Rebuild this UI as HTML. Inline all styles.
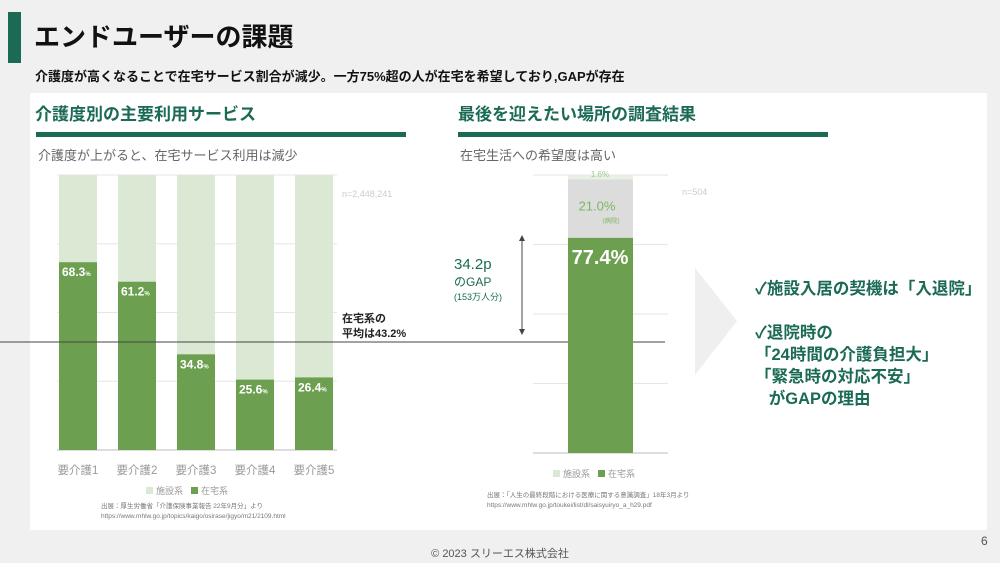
<!DOCTYPE html>
<html><head><meta charset="utf-8"><style>
body{margin:0;width:1000px;height:563px;background:#f0f0f0;position:relative;overflow:hidden;font-family:"Liberation Sans","Noto Sans CJK JP",sans-serif}
.a{position:absolute;white-space:nowrap}
</style></head><body>
<div class="a" style="left:8px;top:12px;width:13px;height:51px;background:#1b6a55"></div>
<div class="a" style="left:34px;top:17px;font-size:26px;font-weight:bold;color:#111">エンドユーザーの課題</div>
<div class="a" style="left:35px;top:66px;font-size:13px;font-weight:bold;color:#111">介護度が高くなることで在宅サービス割合が減少。一方75%超の人が在宅を希望しており,GAPが存在</div>
<div class="a" style="left:30px;top:93px;width:957px;height:437px;background:#fff"></div>
<div class="a" style="left:35px;top:100px;font-size:17px;font-weight:bold;color:#1b6a55">介護度別の主要利用サービス</div>
<div class="a" style="left:36px;top:132px;width:370px;height:5px;background:#1b6a55"></div>
<div class="a" style="left:38px;top:145px;font-size:13px;color:#666">介護度が上がると、在宅サービス利用は減少</div>
<div class="a" style="left:458px;top:100px;font-size:17px;font-weight:bold;color:#1b6a55">最後を迎えたい場所の調査結果</div>
<div class="a" style="left:458px;top:132px;width:370px;height:5px;background:#1b6a55"></div>
<div class="a" style="left:460px;top:145px;font-size:13px;color:#666">在宅生活への希望度は高い</div>
<svg class="a" style="left:0;top:0" width="1000" height="563" id="svg"></svg>
<div class="a" style="left:755px;top:278px;font-size:16.5px;font-weight:bold;color:#1b6a55;line-height:22px">✓施設入居の契機は「入退院」<br><br>✓退院時の<br>「24時間の介護負担大」<br>「緊急時の対応不安」<br>&nbsp;&nbsp;&nbsp;がGAPの理由</div>
<div class="a" style="left:0;width:1000px;text-align:center;top:545px;font-size:11px;color:#555">© 2023 スリーエス株式会社</div>
<div class="a" style="left:981px;top:534px;font-size:12px;color:#555">6</div>
<script>
const categories=["要介護1","要介護2","要介護3","要介護4","要介護5"];
const homeValues=[68.3,61.2,34.8,25.6,26.4];
const rightHome=[77.4];
const rightHospital=[21.0];
const rightOther=[1.6];
const gridTicks=[0,25,50,75,100];
const NS="http://www.w3.org/2000/svg",svg=document.getElementById('svg');
function el(t,a,txt){const e=document.createElementNS(NS,t);for(const k in a)e.setAttribute(k,a[k]);if(txt!==undefined)e.textContent=txt;svg.appendChild(e);return e;}
const DG="#6c9f50",LG="#dbe8d4",F='"Liberation Sans","Noto Sans CJK JP",sans-serif';
const yL=v=>450-v/100*275, xL=i=>59+i*59;
gridTicks.forEach(t=>{const g=el('line',{x1:57,x2:337,y1:yL(t),y2:yL(t),stroke:t==0?'#bbb':'#e6e6e6'});
});
categories.forEach((c,i)=>{const v=homeValues[i];
const b1=el('rect',{x:xL(i),y:yL(100),width:38,height:yL(v)-yL(100),fill:LG});

const b2=el('rect',{x:xL(i),y:yL(v),width:38,height:yL(0)-yL(v),fill:DG});

const t=el('text',{x:xL(i)+3,y:yL(v)+14,fill:'#fff','font-size':12,'font-weight':'bold','font-family':F},v.toFixed(1));

const p=el('tspan',{'font-size':6},'%');t.appendChild(p);
const c2=el('text',{x:xL(i)+19,y:474,fill:'#999','font-size':11.5,'text-anchor':'middle','font-family':F},c);
});
const n1=el('text',{x:342,y:197,fill:'#ccc','font-size':9,'font-family':F},'n=2,448,241');
const avg=el('line',{x1:0,x2:665,y1:342,y2:342,stroke:'#444','stroke-width':1});
const at=el('text',{x:342,y:322,fill:'#222','font-size':11,'font-weight':'bold','font-family':F});
const ts1=el('tspan',{x:342,dy:0},'在宅系の');at.appendChild(ts1);
const ts2=el('tspan',{x:342,dy:15},'平均は43.2%');at.appendChild(ts2);
function legend(x,y,name){const g1=el('rect',{x:x,y:y-7,width:7,height:7,fill:LG});
const a=el('text',{x:x+10,y:y,fill:'#999','font-size':9,'font-family':F},'施設系');
const g2=el('rect',{x:x+45,y:y-7,width:7,height:7,fill:DG});
const b=el('text',{x:x+55,y:y,fill:'#999','font-size':9,'font-family':F},'在宅系');}
legend(146,494,'left-legend');legend(553,477,'right-legend');
function src(x,y,l1,l2,n){const s=el('text',{x:x,y:y,fill:'#777','font-size':6.5,'font-family':F},l1);
const s2=el('text',{x:x,y:y+10,fill:'#777','font-size':6.5,'font-family':F},l2);}
src(101,508,'出展：厚生労働省「介護保険事業報告 22年9月分」より','https://www.mhlw.go.jp/topics/kaigo/osirase/jigyo/m21/2109.html','left-source');
src(487,497,'出展：「人生の最終段階における医療に関する意識調査」18年3月より','https://www.mhlw.go.jp/toukei/list/dl/saisyuiryo_a_h29.pdf','right-source');
const yR=v=>453-v/100*278;
gridTicks.forEach(t=>{const g=el('line',{x1:533,x2:668,y1:yR(t),y2:yR(t),stroke:t==0?'#bbb':'#e6e6e6'});
});
const h=rightHome[0],hp=rightHospital[0],o=rightOther[0];
const r3=el('rect',{x:568,y:yR(h+hp+o),width:65,height:yR(h+hp)-yR(h+hp+o),fill:'#e8f0e3'});
const r2=el('rect',{x:568,y:yR(h+hp),width:65,height:yR(h)-yR(h+hp),fill:'#dcdcdc'});
const r1=el('rect',{x:568,y:yR(h),width:65,height:yR(0)-yR(h),fill:DG});
const l1=el('text',{x:600,y:yR(h)+26,fill:'#fff','font-size':20,'font-weight':'bold','text-anchor':'middle','font-family':F},h.toFixed(1)+'%');
const l2=el('text',{x:597,y:yR(h+hp/2)+2,fill:'#7bb863','font-size':13,'text-anchor':'middle','font-family':F},hp.toFixed(1)+'%');
const l2b=el('text',{x:611,y:yR(h+hp/2)+14,fill:'#7bb863','font-size':6.5,'text-anchor':'middle','font-family':F},'(病院)');
const l3=el('text',{x:600,y:177,fill:'#9cc98a','font-size':8,'text-anchor':'middle','font-family':F},o.toFixed(1)+'%');
const n2=el('text',{x:682,y:195,fill:'#ccc','font-size':9,'font-family':F},'n=504');
const ar=el('line',{x1:522,x2:522,y1:237,y2:333,stroke:'#444','stroke-width':1});
const a1=el('path',{d:'M519,241 L522,235 L525,241Z M519,329 L522,335 L525,329Z',fill:'#444'});
const g1=el('text',{x:454,y:269,fill:'#1b6a55','font-size':15,'font-family':F},'34.2p');
const g2=el('text',{x:454,y:286,fill:'#1b6a55','font-size':12,'font-family':F},'のGAP');
const g3=el('text',{x:454,y:300,fill:'#1b6a55','font-size':9,'font-family':F},'(153万人分)');
const tri=el('path',{d:'M695,268 L737,321 L695,375Z',fill:'#efefef'});
</script>
</body></html>
